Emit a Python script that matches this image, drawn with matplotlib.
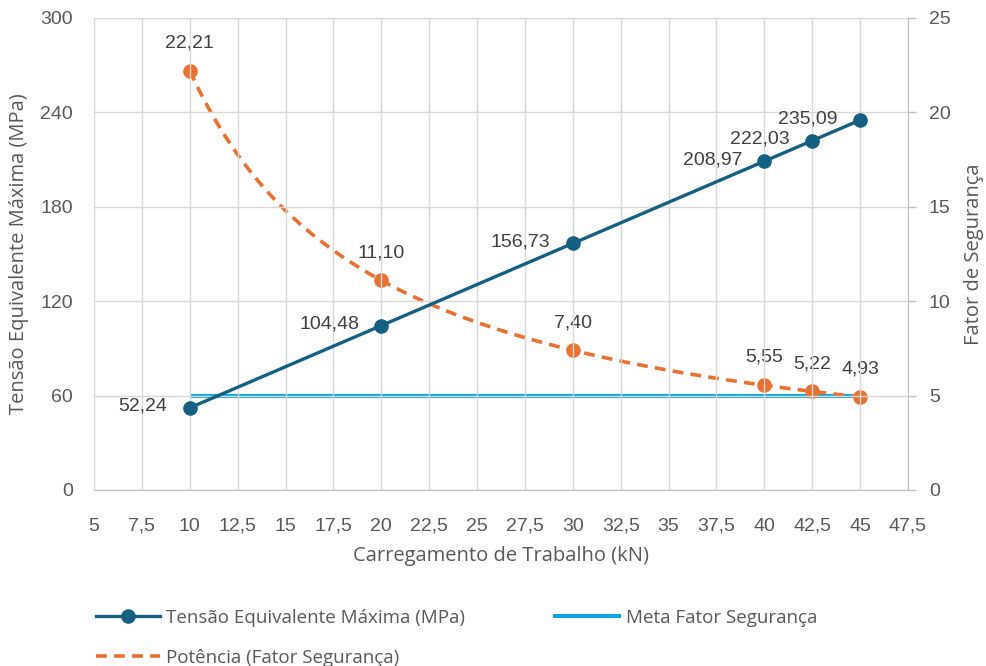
import numpy as np
import matplotlib
matplotlib.use("Agg")
import matplotlib.pyplot as plt
from matplotlib.lines import Line2D

# Working load (kN) and results
carga = [10, 20, 30, 40, 42.5, 45]
tensao = [52.24, 104.48, 156.73, 208.97, 222.03, 235.09]
fator = [22.21, 11.10, 7.40, 5.55, 5.22, 4.93]
meta_fator = 5
meta_x = [10, 45]

x_ticks = [5, 7.5, 10, 12.5, 15, 17.5, 20, 22.5, 25, 27.5, 30, 32.5, 35, 37.5, 40, 42.5, 45, 47.5]
y_left_ticks = [0, 60, 120, 180, 240, 300]
y_right_ticks = [0, 5, 10, 15, 20, 25]

C_BLUE = "#156082"
C_ORANGE = "#E97132"
C_CYAN = "#12A6DE"
C_GRID = "#D9D9D9"
C_TEXT = "#595959"
C_LABEL = "#404040"

NUM_FONT = ["Liberation Sans", "DejaVu Sans"]
TXT_FONT = ["Open Sans", "DejaVu Sans"]


def br(v, nd=2):
    s = f"{v:.{nd}f}" if nd else f"{v:g}"
    return s.replace(".", ",")


fig = plt.figure(figsize=(9.87, 6.66), dpi=100)
ax = fig.add_axes([94 / 987, 1 - 490 / 666, (908 - 94) / 987, (490 - 18) / 666])
ax2 = ax.twinx()

ax.set_xlim(5, 47.5)
ax.set_ylim(0, 300)
ax2.set_ylim(0, 25)

ax.set_xticks(x_ticks)
ax.set_xticklabels([br(t, 0) for t in x_ticks], fontsize=14, family=NUM_FONT, color=C_TEXT)
ax.set_yticks(y_left_ticks)
ax.set_yticklabels([str(t) for t in y_left_ticks], fontsize=14, family=NUM_FONT, color=C_TEXT)
ax2.set_yticks(y_right_ticks)
ax2.set_yticklabels([str(t) for t in y_right_ticks], fontsize=14, family=NUM_FONT, color=C_TEXT)

ax.tick_params(axis="x", length=0, pad=20)
ax.tick_params(axis="y", length=0, pad=15)
ax2.tick_params(axis="y", length=6, width=1, color="#BFBFBF", pad=9, direction="out")

ax.grid(True, color=C_GRID, linewidth=1)
ax.set_axisbelow(True)
for a in (ax, ax2):
    for s in ("left", "right", "top", "bottom"):
        a.spines[s].set_visible(False)
ax.spines["left"].set_visible(True)
ax.spines["left"].set_color(C_GRID)
ax.spines["bottom"].set_visible(True)
ax.spines["bottom"].set_color("#BFBFBF")
ax2.spines["right"].set_visible(True)
ax2.spines["right"].set_color("#BFBFBF")

# Target safety factor
ax2.plot(meta_x, [meta_fator, meta_fator], color=C_CYAN, lw=3.0, zorder=2,
         solid_capstyle="butt")

# Max equivalent stress
ax.plot(carga, tensao, color=C_BLUE, lw=2.4, marker="o", ms=9.5, zorder=3)
ax.set_zorder(ax2.get_zorder() + 1)
ax.patch.set_visible(False)

# Safety factor points and power trendline
b, log_a = np.polyfit(np.log(carga), np.log(fator), 1)
xs = np.linspace(min(carga), max(carga), 300)
ax2.plot(xs, np.exp(log_a) * xs ** b, color=C_ORANGE, lw=2.6, ls=(0, (3, 2)), zorder=3)
ax2.plot(carga, fator, ls="none", marker="o", color=C_ORANGE, ms=9.5, zorder=4)

# Data labels
for x, y in zip(carga, tensao):
    ax.annotate(br(y), (x, y), xytext=(-16, 1), textcoords="offset points",
                ha="right", va="center", fontsize=14, family=NUM_FONT, color=C_LABEL)
for x, y in zip(carga, fator):
    ax2.annotate(br(y), (x, y), xytext=(0, 20), textcoords="offset points",
                 ha="center", va="center", fontsize=14, family=NUM_FONT, color=C_LABEL)

ax.set_xlabel("Carregamento de Trabalho (kN)", fontsize=14.5, family=TXT_FONT,
              color=C_TEXT, labelpad=8)
ax.set_ylabel("Tensão Equivalente Máxima (MPa)", fontsize=14.5, family=TXT_FONT,
              color=C_TEXT, labelpad=8)
ax2.set_ylabel("Fator de Segurança", fontsize=14.5, family=TXT_FONT,
               color=C_TEXT, labelpad=10)

handles = [
    Line2D([], [], color=C_BLUE, lw=2.4, marker="o", ms=9.5),
    Line2D([], [], color=C_ORANGE, lw=2.6, ls=(0, (3, 2))),
    Line2D([], [], color=C_CYAN, lw=3.0),
]
labels = ["Tensão Equivalente Máxima (MPa)", "Potência (Fator Segurança)", "Meta Fator Segurança"]
leg = fig.legend(handles, labels, loc="upper left", bbox_to_anchor=(96 / 987, 1 - 609 / 666),
                 ncol=2, frameon=False, borderpad=0, borderaxespad=0,
                 handlelength=3.4, handletextpad=0.35, columnspacing=4.8,
                 labelspacing=1.15, prop={"family": TXT_FONT, "size": 13.5})
for t in leg.get_texts():
    t.set_color(C_TEXT)

fig.savefig("out.png", dpi=100)
